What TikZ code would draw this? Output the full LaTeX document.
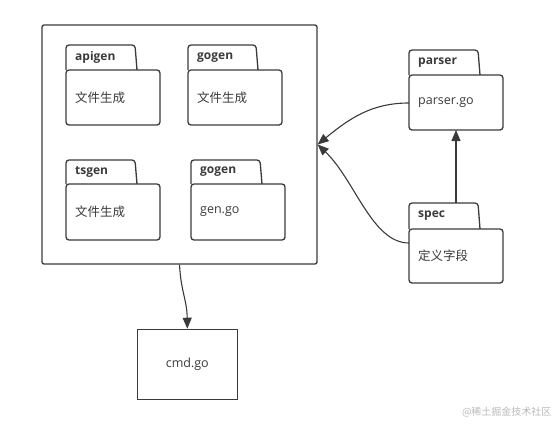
\documentclass[tikz,border=0pt]{standalone}
\usepackage{fontspec}
\setmainfont{Open Sans}
\newfontfamily\cjk{Noto Sans CJK SC}
\usetikzlibrary{arrows.meta}
\definecolor{ink}{HTML}{3A3A3A}
% package box: name, left, right, tab right, tab top, body top, bottom, title, text
\newcommand{\pkg}[9]{
  \draw[pkgline] (#2,#6) -- (#2,#5) -- ({#4-2},#5) -- (#4,#6);
  \draw[pkgline] (#2,#6) rectangle (#3,#7);
  \node[pkgtitle] (#1-t) at ({#2+9},{(#5+#6)/2}) {#8};
  \node[pkgtext]  (#1)   at ({#2+9},{(#6+#7)/2}) {#9};
}

\begin{document}
\begin{tikzpicture}[x=1pt,y=-1pt,
  pkgline/.style={draw=ink,line width=1.3pt,rounded corners=3pt},
  pkgtitle/.style={anchor=west,inner sep=0pt,font=\bfseries\fontsize{12}{14}\selectfont,text=ink},
  pkgtext/.style={anchor=west,inner sep=0pt,font=\fontsize{12.5}{14}\selectfont,text=ink},
  conn/.style={draw=ink,line width=1.1pt,-{Triangle[length=11pt,width=9pt]}}]
  \useasboundingbox (0,0) rectangle (560,424);

  \node[draw=ink,line width=1.3pt,rounded corners=2pt,minimum width=275pt,minimum height=239pt,inner sep=0pt]
    (core) at (179.5,144.5) {};
  \node[draw=ink,line width=1.15pt,minimum width=100pt,minimum height=70pt,inner sep=0pt,
    font=\fontsize{12.5}{14}\selectfont,text=ink] (cmd) at (187.3,364.3) {cmd.go};

  \pkg{apigen}{66}{160}{137}{45}{70}{125}{apigen}{\cjk 文件生成}
  \pkg{gogen}{188}{282}{258}{45}{70}{125}{gogen}{\cjk 文件生成}
  \pkg{tsgen}{66}{160}{137}{160}{184}{240}{tsgen}{\cjk 文件生成}
  \pkg{gengo}{191}{285}{262}{160}{184}{240}{gogen}{gen.go}
  \pkg{parser}{409}{503}{480}{50}{75}{130}{parser}{parser.go}
  \pkg{spec}{409}{503}{480}{203}{229}{283}{spec}{\cjk 定义字段}

  \coordinate (parser-w) at (409,103);
  \coordinate (parser-s) at (456,130);
  \coordinate (spec-n)   at (456,203);
  \coordinate (spec-w)   at (409,243);

  \draw[conn] (core.south) .. controls (181,292) and (187,300) .. (cmd.north);
  \draw[conn] (parser-w) .. controls (372,103) and (350,118) .. (core.east);
  \draw[conn] (spec-w) .. controls (372,243) and (355,180) .. (core.east);
  \draw[conn] (spec-n) -- (parser-s);

  \node[anchor=east,text=black!28,font=\cjk\fontsize{10}{11}\selectfont] (mark) at (555,412) {@稀土掘金技术社区};
\end{tikzpicture}
\end{document}
